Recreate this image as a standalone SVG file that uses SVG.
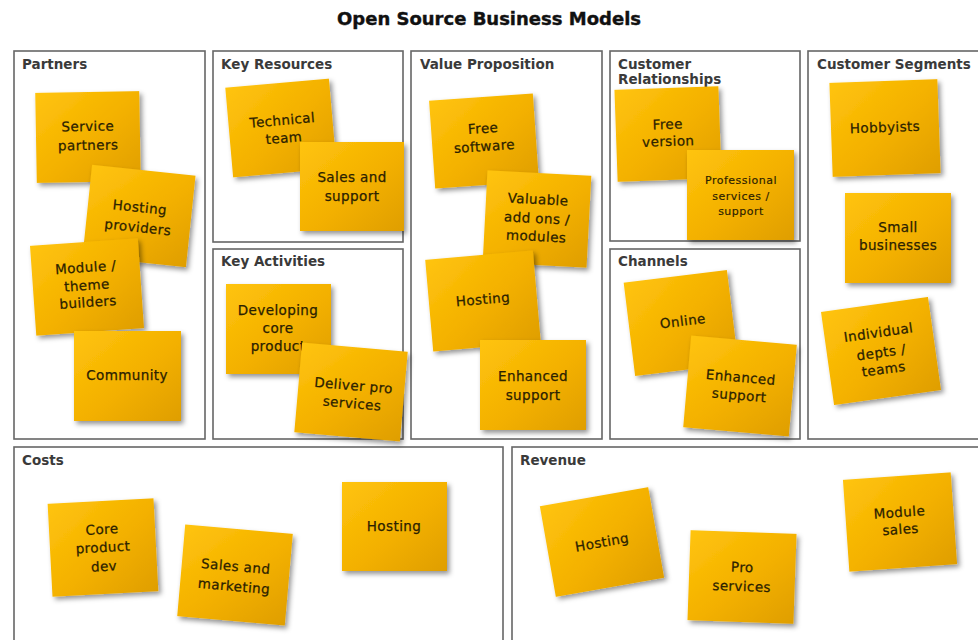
<svg xmlns="http://www.w3.org/2000/svg" width="978" height="640" viewBox="0 0 978 640">
<defs>
<linearGradient id="ng" x1="0" y1="0" x2="1" y2="1">
<stop offset="0" stop-color="#FFC40C"/>
<stop offset="0.55" stop-color="#F3B000"/>
<stop offset="1" stop-color="#DF9E00"/>
</linearGradient>
<filter id="sh" x="-20%" y="-20%" width="150%" height="150%">
<feDropShadow dx="2.5" dy="3" stdDeviation="2.4" flood-color="#000" flood-opacity="0.42"/>
</filter>
<style>
.box{fill:#fff;stroke:#666;stroke-width:1.6}
.lbl{font-family:"DejaVu Sans",Verdana,sans-serif;font-weight:bold;font-size:13.5px;fill:#3a3a3a}
.ttl{font-family:"DejaVu Sans",Verdana,sans-serif;font-weight:bold;font-size:18px;fill:#111;stroke:#111;stroke-width:0.4}
.note rect{fill:url(#ng);filter:url(#sh)}
.note text{font-family:"DejaVu Sans","Noto Sans",sans-serif;font-size:13.5px;fill:#2b2100;stroke:#2b2100;stroke-width:0.25;text-anchor:middle;letter-spacing:0.4px}
.note text.sm{font-size:11px;letter-spacing:0.5px;stroke-width:0.15}
</style>
</defs>
<rect width="978" height="640" fill="#fff"/>
<text class="ttl" x="489" y="25" text-anchor="middle">Open Source Business Models</text>

<g id="boxes">
<g id="box-partners"><rect class="box" x="14" y="51" width="191" height="388"/><text class="lbl" x="22" y="69">Partners</text></g>
<g id="box-keyresources"><rect class="box" x="213" y="51" width="190" height="191"/><text class="lbl" x="221" y="69">Key Resources</text></g>
<g id="box-keyactivities"><rect class="box" x="213" y="249" width="190" height="190"/><text class="lbl" x="221" y="266">Key Activities</text></g>
<g id="box-valueprop"><rect class="box" x="411" y="51" width="191" height="388"/><text class="lbl" x="420" y="69">Value Proposition</text></g>
<g id="box-custrel"><rect class="box" x="610" y="51" width="190" height="190"/><text class="lbl" x="618" y="69">Customer</text><text class="lbl" x="618" y="84">Relationships</text></g>
<g id="box-channels"><rect class="box" x="610" y="249" width="190" height="190"/><text class="lbl" x="618" y="266">Channels</text></g>
<g id="box-custseg"><rect class="box" x="808" y="51" width="180" height="388"/><text class="lbl" x="817" y="69">Customer Segments</text></g>
<g id="box-costs"><rect class="box" x="14" y="447" width="489" height="200"/><text class="lbl" x="22" y="465">Costs</text></g>
<g id="box-revenue"><rect class="box" x="512" y="447" width="476" height="200"/><text class="lbl" x="520" y="465">Revenue</text></g>
</g>

<g id="connectors"></g>

<!-- Partners -->
<g id="n-service-partners" class="note" transform="translate(88,137) rotate(-1)"><rect x="-52" y="-45" width="104" height="90"/><text x="0" y="-6">Service</text><text x="0" y="13">partners</text></g>
<g id="n-hosting-providers" class="note" transform="translate(139,216) rotate(6)"><rect x="-52" y="-46" width="104" height="92"/><text x="0" y="-4">Hosting</text><text x="0" y="16">providers</text></g>
<g id="n-module-theme" class="note" transform="translate(87,287) rotate(-4)"><rect x="-54" y="-45" width="108" height="90"/><text x="0" y="-15">Module /</text><text x="0" y="3">theme</text><text x="0" y="20">builders</text></g>
<g id="n-community" class="note" transform="translate(127,376)"><rect x="-53" y="-45" width="107" height="90"/><text x="0" y="4">Community</text></g>

<!-- Key Resources -->
<g id="n-technical-team" class="note" transform="translate(281,128) rotate(-5)"><rect x="-52" y="-45" width="104" height="90"/><text x="2" y="-3">Technical</text><text x="2" y="15">team</text></g>
<g id="n-sales-support" class="note" transform="translate(352,187)"><rect x="-52" y="-45" width="104" height="89"/><text x="0" y="-5">Sales and</text><text x="0" y="14">support</text></g>

<!-- Key Activities -->
<g id="n-developing" class="note" transform="translate(278,329)"><rect x="-52" y="-45" width="105" height="90"/><text x="0" y="-14">Developing</text><text x="0" y="4">core</text><text x="0" y="22">product</text></g>
<g id="n-deliver" class="note" transform="translate(351,392) rotate(5)"><rect x="-53" y="-45" width="106" height="90"/><text x="2" y="-2">Deliver pro</text><text x="2" y="16">services</text></g>

<!-- Value Proposition -->
<g id="n-free-software" class="note" transform="translate(484,141) rotate(-4)"><rect x="-52" y="-44" width="104" height="88"/><text x="0" y="-8">Free</text><text x="0" y="10">software</text></g>
<g id="n-valuable" class="note" transform="translate(537,219) rotate(3)"><rect x="-52" y="-46" width="104" height="92"/><text x="0" y="-15">Valuable</text><text x="0" y="4">add ons /</text><text x="0" y="22">modules</text></g>
<g id="n-hosting-vp" class="note" transform="translate(483,301) rotate(-5)"><rect x="-54" y="-46" width="108" height="92"/><text x="0" y="3">Hosting</text></g>
<g id="n-enhanced-vp" class="note" transform="translate(533,385)"><rect x="-53" y="-45" width="106" height="90"/><text x="0" y="-4">Enhanced</text><text x="0" y="15">support</text></g>

<!-- Customer Relationships -->
<g id="n-free-version" class="note" transform="translate(668,134) rotate(-2)"><rect x="-52" y="-46" width="104" height="92"/><text x="0" y="-5">Free</text><text x="0" y="12">version</text></g>
<g id="n-professional" class="note" transform="translate(740,195)"><rect x="-53" y="-45" width="107" height="90"/><text class="sm" x="1" y="-11">Professional</text><text class="sm" x="1" y="5">services /</text><text class="sm" x="1" y="20">support</text></g>

<!-- Channels -->
<g id="n-online" class="note" transform="translate(681,323) rotate(-7)"><rect x="-52" y="-47" width="104" height="94"/><text x="2" y="3">Online</text></g>
<g id="n-enhanced-ch" class="note" transform="translate(740,386) rotate(5)"><rect x="-53" y="-46" width="106" height="92"/><text x="0" y="-4">Enhanced</text><text x="0" y="14">support</text></g>

<!-- Customer Segments -->
<g id="n-hobbyists" class="note" transform="translate(885,128) rotate(-2)"><rect x="-54" y="-47" width="108" height="94"/><text x="0" y="4">Hobbyists</text></g>
<g id="n-small-business" class="note" transform="translate(898,238)"><rect x="-53" y="-45" width="106" height="90"/><text x="0" y="-6">Small</text><text x="0" y="12">businesses</text></g>
<g id="n-individual" class="note" transform="translate(881,351) rotate(-8)"><rect x="-54" y="-47" width="108" height="94"/><text x="0" y="-14">Individual</text><text x="0" y="6">depts /</text><text x="0" y="23">teams</text></g>

<!-- Costs -->
<g id="n-core-dev" class="note" transform="translate(103,548) rotate(-3)"><rect x="-53" y="-47" width="106" height="93"/><text x="0" y="-14">Core</text><text x="0" y="4">product</text><text x="0" y="23">dev</text></g>
<g id="n-sales-marketing" class="note" transform="translate(235,575) rotate(5)"><rect x="-54" y="-46" width="108" height="92"/><text x="0" y="-4">Sales and</text><text x="0" y="16">marketing</text></g>
<g id="n-hosting-cost" class="note" transform="translate(394,527)"><rect x="-52" y="-45" width="105" height="89"/><text x="0" y="4">Hosting</text></g>

<!-- Revenue -->
<g id="n-hosting-rev" class="note" transform="translate(602,542) rotate(-10)"><rect x="-55" y="-46" width="110" height="92"/><text x="0" y="5">Hosting</text></g>
<g id="n-pro-services" class="note" transform="translate(742,577) rotate(2)"><rect x="-53" y="-45" width="106" height="90"/><text x="0" y="-5">Pro</text><text x="0" y="14">services</text></g>
<g id="n-module-sales" class="note" transform="translate(900,522) rotate(-4)"><rect x="-54" y="-46" width="108" height="92"/><text x="0" y="-5">Module</text><text x="0" y="12">sales</text></g>
</svg>
